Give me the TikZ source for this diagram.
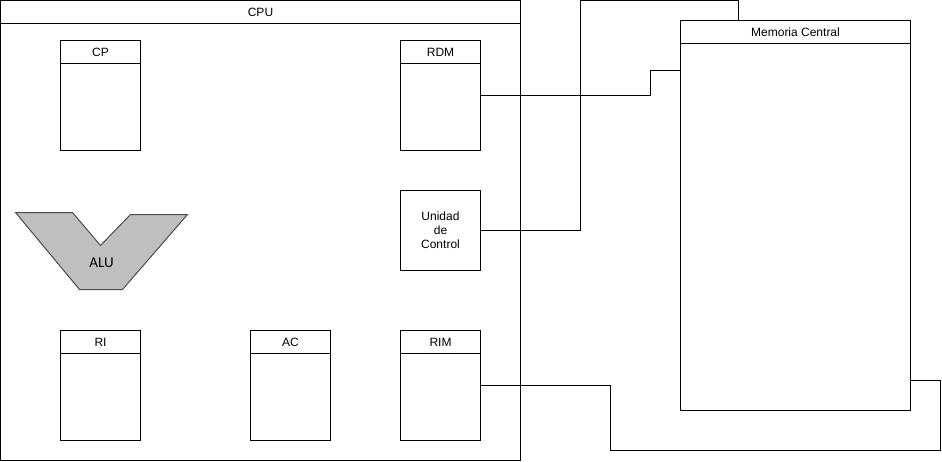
\documentclass[tikz,border=0pt]{standalone}
\usepackage{fontspec}
\setmainfont{Liberation Sans}
\newfontfamily\alufont{Carlito}
\begin{document}
\begin{tikzpicture}[x=1pt,y=-1pt,line width=1pt]
        \tikzstyle{block}=[rectangle,draw=black,fill=white,inner sep=0pt,font=\fontsize{12}{14}\selectfont]
        \tikzstyle{register}=[block,minimum width=80pt,minimum height=110pt]
        \tikzstyle{header}=[block,minimum height=23pt,anchor=north]
        \tikzstyle{alu}=[draw=black!70,fill=black!25,line width=1pt]
        \tikzstyle{edge}=[draw,line width=1pt]
        \useasboundingbox (-0.5,-0.5) rectangle (941.5,460.5);
       \begin{scope}
         \node [block,minimum width=520pt,minimum height=460pt] (cpu) at (260,230) {};
         \node [header,minimum width=520pt] (cpuh) at (cpu.north) {CPU};

         \node [register] (cp) at (100,95) {};
         \node [header,minimum width=80pt] (cph) at (cp.north) {CP};
         \node [register] (rdm) at (440,95) {};
         \node [header,minimum width=80pt] (rdmh) at (rdm.north) {RDM};
         \node [block,minimum width=80pt,minimum height=80pt,align=center] (uc) at (440,230) {Unidad\\de\\Control};
         \node [register] (ri) at (100,385) {};
         \node [header,minimum width=80pt] (rih) at (ri.north) {RI};
         \node [register] (ac) at (290,385) {};
         \node [header,minimum width=80pt] (ach) at (ac.north) {AC};
         \node [register] (rim) at (440,385) {};
         \node [header,minimum width=80pt] (rimh) at (rim.north) {RIM};

         \path[alu] (15,212) -- (72,212) -- (100,245) -- (130,214) -- (187,214) -- (122,289) -- (79,289) -- cycle;
         \node [font=\alufont\fontsize{15}{18}\selectfont] (alul) at (101,262) {ALU};

         \node [block,minimum width=230pt,minimum height=390pt] (mem) at (795,215) {};
         \node [header,minimum width=230pt] (memh) at (mem.north) {Memoria Central};

         \path[edge] (rdm.east) -| (650,70) -- (mem.west |- 650,70);
         \path[edge] (uc.east) -| (580,0) -| (mem.north -| 738,0);
         \path[edge] (rim.east) -| (610,450) -| (940,380) -- (mem.east |- 940,380);
        \end{scope}
      \end{tikzpicture}
\end{document}
